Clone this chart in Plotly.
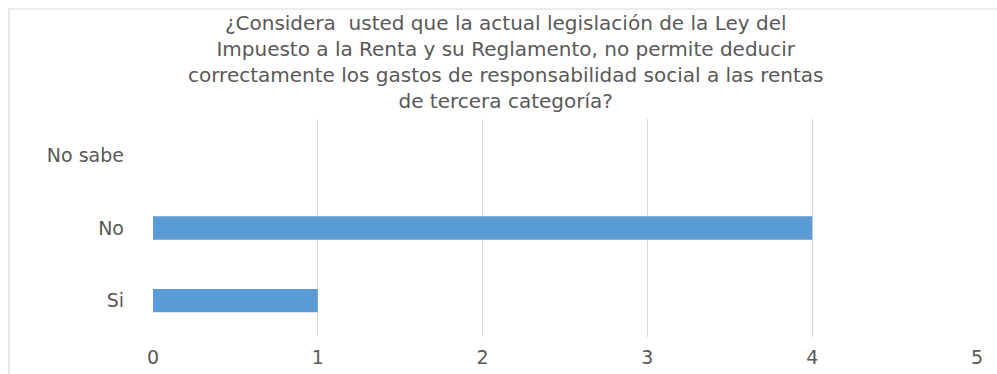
import plotly.graph_objects as go

categories = ["Si", "No", "No sabe"]
values = [1, 4, 0]
x_ticks = [0, 1, 2, 3, 4, 5]
title_lines = [
    "¿Considera  usted que la actual legislación de la Ley del",
    "Impuesto a la Renta y su Reglamento, no permite deducir",
    "correctamente los gastos de responsabilidad social a las rentas",
    "de tercera categoría?",
]

W, H = 997, 374
L, R, T, B = 153, 20, 119, 37
pw = W - L - R
ph = H - T - B
FONT = "DejaVu Sans"
GRAY = "#595959"

fig = go.Figure(go.Bar(
    y=categories, x=values, orientation="h",
    marker=dict(color="#5b9bd5", line=dict(width=0)),
    width=0.32,
))

def px_to_paper_x(px):
    return (px - L) / pw

def px_to_paper_y(py):
    return 1 - (py - T) / ph

fig.add_shape(type="rect", xref="paper", yref="paper",
              x0=px_to_paper_x(9), x1=px_to_paper_x(1010),
              y0=px_to_paper_y(390), y1=px_to_paper_y(9),
              line=dict(color="#d9d9d9", width=1.2), layer="below")

fig.add_annotation(text="<br>".join(title_lines), xref="paper", yref="paper",
                   x=px_to_paper_x(505), y=px_to_paper_y(62),
                   xanchor="center", yanchor="middle", showarrow=False,
                   align="center",
                   font=dict(family=FONT, size=20, color=GRAY))

fig.update_layout(
    width=W, height=H,
    margin=dict(l=L, r=R, t=T, b=B, autoexpand=False),
    paper_bgcolor="white", plot_bgcolor="white",
    showlegend=False,
    font=dict(family=FONT, color=GRAY),
    xaxis=dict(range=[0, 5], tickvals=x_ticks, showgrid=True,
               gridcolor="#d9d9d9", gridwidth=1, zeroline=False,
               showline=False, ticks="", tickfont=dict(size=19, color=GRAY),
               ticklabelstandoff=7, automargin=False, fixedrange=True),
    yaxis=dict(categoryorder="array", categoryarray=categories,
               showgrid=False, zeroline=False, showline=False, ticks="",
               tickfont=dict(size=19, color=GRAY),
               ticklabelstandoff=28, automargin=False, fixedrange=True),
)

fig.write_html("out.html")
